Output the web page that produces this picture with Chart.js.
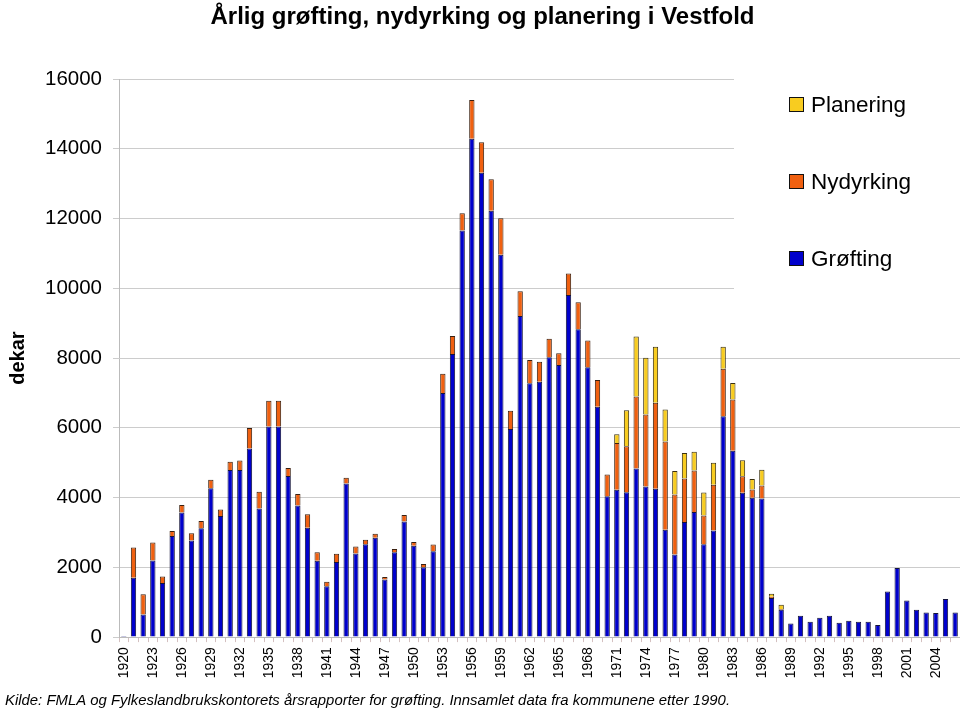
<!DOCTYPE html>
<html>
<head>
<meta charset="utf-8">
<title>Årlig grøfting, nydyrking og planering i Vestfold</title>
<script src="https://cdn.jsdelivr.net/npm/chart.js@4.4.0/dist/chart.umd.min.js"></script>
<style>
  html, body { margin: 0; padding: 0; background: #fff; }
</style>
</head>
<body>
<canvas id="chart" width="960" height="711"></canvas>
<script>
const years = [
    1920, 1921, 1922, 1923, 1924, 1925, 1926, 1927, 1928, 1929,
    1930, 1931, 1932, 1933, 1934, 1935, 1936, 1937, 1938, 1939,
    1940, 1941, 1942, 1943, 1944, 1945, 1946, 1947, 1948, 1949,
    1950, 1951, 1952, 1953, 1954, 1955, 1956, 1957, 1958, 1959,
    1960, 1961, 1962, 1963, 1964, 1965, 1966, 1967, 1968, 1969,
    1970, 1971, 1972, 1973, 1974, 1975, 1976, 1977, 1978, 1979,
    1980, 1981, 1982, 1983, 1984, 1985, 1986, 1987, 1988, 1989,
    1990, 1991, 1992, 1993, 1994, 1995, 1996, 1997, 1998, 1999,
    2000, 2001, 2002, 2003, 2004, 2005, 2006
];

// dekar per år
const grofting = [
    30, 1700, 650, 2200, 1550, 2900, 3575, 2770, 3120, 4265,
    3470, 4790, 4790, 5410, 3690, 6040, 6040, 4620, 3775, 3135,
    2190, 1455, 2150, 4405, 2400, 2665, 2850, 1655, 2430, 3315,
    2620, 2000, 2465, 7000, 8115, 11660, 14290, 13315, 12225, 10965,
    5965, 9205, 7275, 7320, 8020, 7800, 9805, 8825, 7735, 6605,
    4040, 4225, 4150, 4835, 4320, 4255, 3080, 2370, 3300, 3585,
    2665, 3060, 6330, 5345, 4140, 3995, 3975, 1120, 785, 390,
    610, 440, 555, 610, 410, 470, 440, 440, 345, 1310,
    1980, 1050, 785, 705, 690, 1090, 705
];

const nydyrking = [
    null, 870, 580, 515, 190, 140, 210, 210, 210, 250,
    190, 240, 275, 585, 480, 735, 735, 230, 325, 390,
    240, 135, 240, 165, 200, 125, 115, 65, 95, 185,
    105, 95, 190, 550, 515, 490, 1110, 870, 900, 1040,
    525, 710, 670, 575, 535, 335, 620, 775, 765, 765,
    620, 1340, 1320, 2065, 2065, 2465, 2525, 1720, 1245, 1195,
    820, 1310, 1365, 1470, 470, 240, 375, 40, 20, null,
    null, null, null, null, null, null, null, null, null, null,
    null, null, null, null, null, null, null
];

const planering = [
    null, null, null, null, null, null, null, null, null, null,
    null, null, null, null, null, null, null, null, null, null,
    null, null, null, null, null, null, null, null, null, null,
    null, null, null, null, null, null, null, null, null, null,
    null, null, null, null, null, null, null, null, null, null,
    null, 250, 1035, 1720, 1625, 1605, 920, 670, 735, 535,
    660, 630, 630, 470, 460, 295, 450, 80, 125, null,
    null, null, null, null, null, null, null, null, null, null,
    null, null, null, null, null, null, null
];

const yTicks = [0, 2000, 4000, 6000, 8000, 10000, 12000, 14000, 16000];

const fontFamily = '"Liberation Sans", Arial, Helvetica, sans-serif';
Chart.defaults.font.family = fontFamily;
Chart.defaults.color = '#000';

// legende oppe til høyre, tegnet over rutenettet
const legendBox = {
    id: 'legendBox',
    beforeDatasetsDraw(chart) {
        const c = chart.ctx;
        c.save();
        c.fillStyle = '#fff';
        c.fillRect(734, 70, 226, 225);
        const order = [2, 1, 0];
        const rowY = [105, 182, 259];
        c.font = '22.5px ' + fontFamily;
        c.textBaseline = 'middle';
        c.textAlign = 'left';
        order.forEach((i, n) => {
            const ds = chart.data.datasets[i];
            c.fillStyle = ds.backgroundColor;
            c.fillRect(789.5, rowY[n] - 7.5, 14, 14);
            c.strokeStyle = '#111';
            c.lineWidth = 1;
            c.strokeRect(789.5, rowY[n] - 7.5, 14, 14);
            c.fillStyle = '#000';
            c.fillText(ds.label, 811, rowY[n] + 1);
        });
        c.restore();
    }
};

const chart = new Chart(document.getElementById('chart'), {
    type: 'bar',
    data: {
        labels: years,
        datasets: [
            {
                label: 'Grøfting',
                data: grofting,
                backgroundColor: '#0000cc',
                borderColor: '#15153a',
                borderWidth: 1
            },
            {
                label: 'Nydyrking',
                data: nydyrking,
                backgroundColor: '#f06010',
                borderColor: '#3a2010',
                borderWidth: 1
            },
            {
                label: 'Planering',
                data: planering,
                backgroundColor: '#f8cc20',
                borderColor: '#3a3010',
                borderWidth: 1
            }
        ]
    },
    options: {
        responsive: false,
        animation: false,
        categoryPercentage: 1,
        barPercentage: 0.55,
        layout: { padding: { left: 5, right: 0, top: 0, bottom: 0 } },
        scales: {
            x: {
                stacked: true,
                afterFit(scale) {
                    scale.height = 54;
                    scale.paddingLeft = 0;
                    scale.paddingRight = 0;
                },
                grid: {
                    drawOnChartArea: false,
                    tickLength: 5,
                    color: '#d4c0c0'
                },
                border: { color: '#bbbbbb' },
                ticks: {
                    autoSkip: false,
                    minRotation: 90,
                    maxRotation: 90,
                    padding: 5,
                    font: { size: 14 },
                    callback(v, i) {
                        const y = years[i];
                        return y % 3 === 0 ? String(y) : '';
                    }
                }
            },
            y: {
                stacked: true,
                min: 0,
                max: 16000,
                afterFit(scale) { scale.width = 114; },
                afterBuildTicks(scale) {
                    scale.ticks = yTicks.map(v => ({ value: v }));
                },
                grid: {
                    color: '#cccccc',
                    tickLength: 6
                },
                border: { color: '#bbbbbb' },
                ticks: {
                    padding: 11,
                    font: { size: 20.5 },
                    callback: v => String(v)
                },
                title: {
                    display: true,
                    text: 'dekar',
                    font: { size: 20, weight: 'bold' },
                    padding: { top: 1, bottom: 0 }
                }
            }
        },
        plugins: {
            legend: { display: false },
            tooltip: { enabled: false },
            title: {
                display: true,
                text: 'Årlig grøfting, nydyrking og planering i Vestfold',
                font: { size: 24, weight: 'bold' },
                padding: { top: 3, bottom: 47.2 }
            },
            subtitle: {
                display: true,
                position: 'bottom',
                align: 'start',
                text: 'Kilde: FMLA og Fylkeslandbrukskontorets årsrapporter for grøfting. Innsamlet data fra kommunene etter 1990.',
                font: { size: 14.9, style: 'italic', weight: 'normal' },
                padding: { top: 1, bottom: 1 }
            }
        }
    },
    plugins: [legendBox]
});
</script>
</body>
</html>
